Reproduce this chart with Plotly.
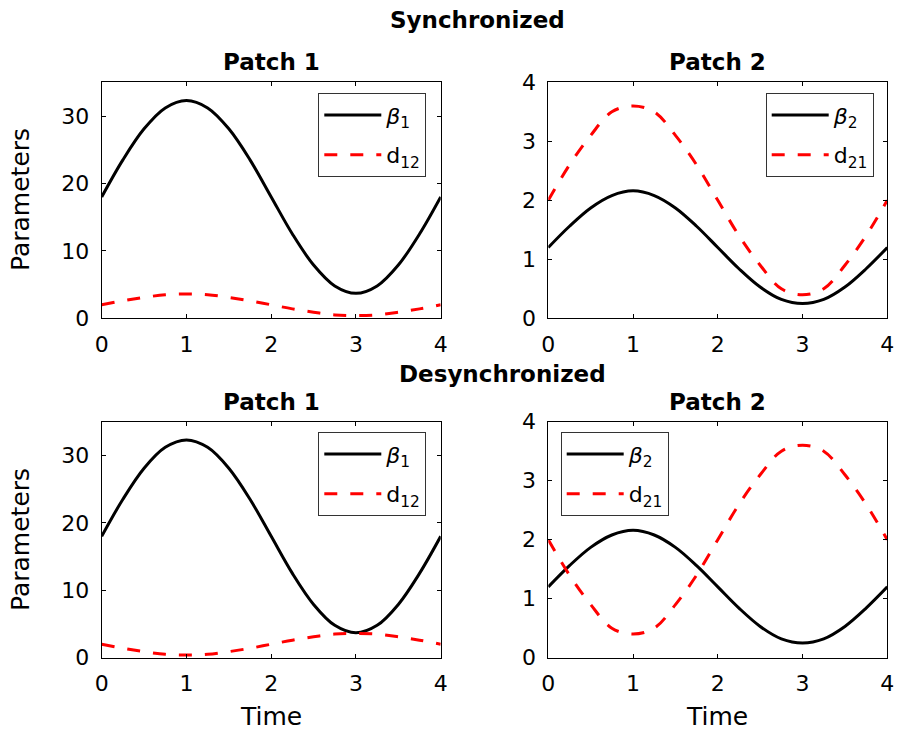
import plotly.graph_objects as go

# ---- data ----
time = [0, 0.25, 0.5, 0.75, 1, 1.25, 1.5, 1.75, 2, 2.25, 2.5, 2.75, 3, 3.25, 3.5, 3.75, 4]

beta1 = [18, 23.5, 28.1, 31.2, 32.3, 31.2, 28.1, 23.5, 18, 12.5, 7.9, 4.8, 3.7, 4.8, 7.9, 12.5, 18]
beta2 = [1.2, 1.56, 1.87, 2.08, 2.16, 2.08, 1.87, 1.56, 1.2, 0.84, 0.53, 0.32, 0.25, 0.32, 0.53, 0.84, 1.2]

d12_sync = [2.0, 2.6, 3.1, 3.5, 3.6, 3.5, 3.1, 2.6, 2.0, 1.4, 0.9, 0.5, 0.4, 0.5, 0.9, 1.4, 2.0]
d21_sync = [2.0, 2.6, 3.1, 3.5, 3.6, 3.5, 3.1, 2.6, 2.0, 1.4, 0.9, 0.5, 0.4, 0.5, 0.9, 1.4, 2.0]
d12_desync = [2.0, 1.4, 0.9, 0.5, 0.4, 0.5, 0.9, 1.4, 2.0, 2.6, 3.1, 3.5, 3.6, 3.5, 3.1, 2.6, 2.0]
d21_desync = [2.0, 1.4, 0.9, 0.5, 0.4, 0.5, 0.9, 1.4, 2.0, 2.6, 3.1, 3.5, 3.6, 3.5, 3.1, 2.6, 2.0]

x_ticks = [0, 1, 2, 3, 4]
y_ticks_p1 = [0, 10, 20, 30]
y_ticks_p2 = [0, 1, 2, 3, 4]
y_range_p1 = [0, 35]
y_range_p2 = [0, 4]

row_titles = ["Synchronized", "Desynchronized"]
panel_titles = ["Patch 1", "Patch 2"]

# ---- figure ----
W, H = 897, 732
FONT = "DejaVu Sans, Liberation Sans, Arial, sans-serif"

def px_x(p):
    return p / W

def px_y(p):
    return 1 - p / H

xdom_left = [px_x(101.7), px_x(440.7)]
xdom_right = [px_x(548.3), px_x(887.3)]
ydom_top = [px_y(318.3), px_y(82.3)]
ydom_bot = [px_y(657.7), px_y(421.7)]

fig = go.Figure()

panels = [
    ("x", "y", xdom_left, ydom_top, beta1, "<i>β</i><sub>1</sub>", d12_sync, "d<sub>12</sub>", "legend", y_range_p1, y_ticks_p1),
    ("x2", "y2", xdom_right, ydom_top, beta2, "<i>β</i><sub>2</sub>", d21_sync, "d<sub>21</sub>", "legend2", y_range_p2, y_ticks_p2),
    ("x3", "y3", xdom_left, ydom_bot, beta1, "<i>β</i><sub>1</sub>", d12_desync, "d<sub>12</sub>", "legend3", y_range_p1, y_ticks_p1),
    ("x4", "y4", xdom_right, ydom_bot, beta2, "<i>β</i><sub>2</sub>", d21_desync, "d<sub>21</sub>", "legend4", y_range_p2, y_ticks_p2),
]

legend_pos = {
    "legend": (px_x(318.3), px_y(93.3)),
    "legend2": (px_x(765.7), px_y(93.3)),
    "legend3": (px_x(318.3), px_y(432.3)),
    "legend4": (px_x(560.7), px_y(432.3)),
}

layout_updates = {}
for i, (xa, ya, xd, yd, solid, sname, dashed, dname, leg, yr, yt) in enumerate(panels):
    fig.add_trace(go.Scatter(
        x=time, y=solid, mode="lines", name=sname, legendgroup=f"s{i}",
        line=dict(color="black", width=3, shape="spline"),
        xaxis=xa, yaxis=ya, legend=leg,
    ))
    fig.add_trace(go.Scatter(
        x=time, y=dashed, mode="lines", name=dname, legendgroup=f"d{i}",
        line=dict(color="#ff0000", width=3, dash="13px,13px", shape="spline"),
        xaxis=xa, yaxis=ya, legend=leg,
    ))
    xkey = "xaxis" if xa == "x" else "xaxis" + xa[1:]
    ykey = "yaxis" if ya == "y" else "yaxis" + ya[1:]
    axis_common = dict(
        showline=True, linecolor="black", linewidth=1, mirror="ticks",
        ticks="inside", ticklen=4, tickwidth=1, tickcolor="black",
        showgrid=False, zeroline=False, automargin=False,
        tickfont=dict(family=FONT, size=22, color="black"),
    )
    layout_updates[xkey] = dict(
        domain=xd, anchor=ya, range=[0, 4], tickvals=x_ticks,
        ticktext=[str(v) for v in x_ticks], ticklabelstandoff=6, **axis_common,
    )
    layout_updates[ykey] = dict(
        domain=yd, anchor=xa, range=yr, tickvals=yt,
        ticktext=[str(v) for v in yt], ticklabelstandoff=7, **axis_common,
    )
    lx, ly = legend_pos[leg]
    layout_updates[leg] = dict(
        x=lx, y=ly, xanchor="left", yanchor="top",
        bgcolor="white", bordercolor="#333333", borderwidth=1,
        font=dict(family=FONT, size=22, color="black"),
        tracegroupgap=8, itemwidth=57,
    )

fig.update_layout(**layout_updates)

annotations = []
def add_text(text, xc, yc, size, angle=0):
    annotations.append(dict(text=text, x=px_x(xc), y=px_y(yc), xref="paper", yref="paper",
                            xanchor="center", yanchor="middle", showarrow=False,
                            textangle=angle, font=dict(family=FONT, size=size, color="black")))

add_text("<b>" + row_titles[0] + "</b>", 477, 20, 23)
add_text("<b>" + row_titles[1] + "</b>", 502, 374, 23)
for xc, yc, t in [(271, 62, panel_titles[0]), (717, 62, panel_titles[1]),
                  (271, 402, panel_titles[0]), (717, 402, panel_titles[1])]:
    add_text("<b>" + t + "</b>", xc, yc, 23)
for yc in [200, 540]:
    add_text("Parameters", 20, yc, 25, angle=-90)
for xc in [271, 717]:
    add_text("Time", xc, 716, 25)

fig.update_layout(
    width=W, height=H,
    margin=dict(l=0, r=0, t=0, b=0),
    paper_bgcolor="white", plot_bgcolor="white",
    annotations=annotations,
    showlegend=True,
    font=dict(family=FONT, color="black"),
)

fig.write_html("out.html", config={"displayModeBar": False},
               post_script="document.body.style.margin='0';")
